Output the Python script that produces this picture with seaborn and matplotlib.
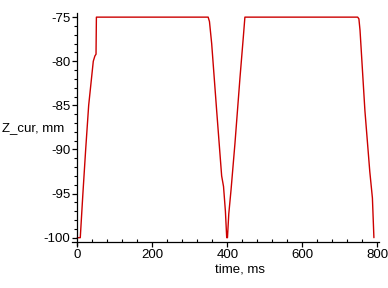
import matplotlib
matplotlib.use("Agg")
import matplotlib.pyplot as plt
from matplotlib.ticker import MultipleLocator
import seaborn as sns
import pandas as pd

# data
time_ms = [0, 8, 15, 22.4, 30.4, 42.7, 47, 50, 51,
           349, 352.5, 358.4, 371.7, 385, 390, 395, 398.5,
           400.5, 404, 410, 420.5, 434, 442.7, 447,
           747.7, 751, 754, 767, 780, 787, 791]
z_cur = [-100, -100, -95, -90, -85, -80, -79.4, -79.2, -75,
         -75, -75.5, -78.0, -85.6, -93.0, -94.2, -97.0, -100,
         -100, -97.3, -94.6, -89.3, -81.8, -77.3, -75,
         -75, -75.2, -76.5, -85.6, -92.5, -95.5, -100]
x_ticks = [0, 200, 400, 600, 800]
y_ticks = [-100, -95, -90, -85, -80, -75]

sns.set_style("white")
plt.rcParams['font.family'] = ['Liberation Sans', 'DejaVu Sans']

df = pd.DataFrame({"time": time_ms, "z": z_cur})

fig = plt.figure(figsize=(3.88, 2.88), dpi=100)
ax = fig.add_axes([0.1863, 0.1493, 0.7912, 0.8056])
sns.lineplot(data=df, x="time", y="z", estimator=None, sort=False,
             color="#cc0000", linewidth=1.0, ax=ax)
for l in ax.lines:
    l.set_clip_on(False)

ax.set_xlim(-13.3, 805.3)
ax.set_ylim(-100.83, -74.53)
ax.spines['top'].set_visible(False)
ax.spines['right'].set_visible(False)
ax.spines['left'].set_position(('data', 0))
ax.spines['bottom'].set_position(('data', -100.45))
for s in ('left', 'bottom'):
    ax.spines[s].set_color('black')
    ax.spines[s].set_linewidth(0.9)

ax.set_xticks(x_ticks)
ax.set_yticks(y_ticks)
ax.set_xticklabels([str(v) for v in x_ticks])
ax.set_yticklabels([str(v).replace('-', '-') for v in y_ticks])
ax.xaxis.set_minor_locator(MultipleLocator(40))
ax.yaxis.set_minor_locator(MultipleLocator(1))
ax.tick_params(axis='both', which='major', direction='out', length=3.5,
               width=0.9, color='black', labelsize=9.5, pad=1.5,
               labelcolor='black')
ax.tick_params(axis='x', which='minor', direction='in', length=2, width=0.8,
               color='black')
ax.tick_params(axis='y', which='minor', direction='out', length=2, width=0.8,
               color='black')
ax.tick_params(axis='x', which='both', bottom=True)
ax.tick_params(axis='y', which='both', left=True)

ax.set_xlabel("")
ax.set_ylabel("")
fig.text(2 / 388, 1 - 128 / 288, "Z_cur, mm", fontsize=9.5, ha='left',
         va='center', color='black')
fig.text(215 / 388, 1 - 270 / 288, "time, ms", fontsize=9.5, ha='left',
         va='center', color='black')

fig.savefig("out.png", dpi=100)
